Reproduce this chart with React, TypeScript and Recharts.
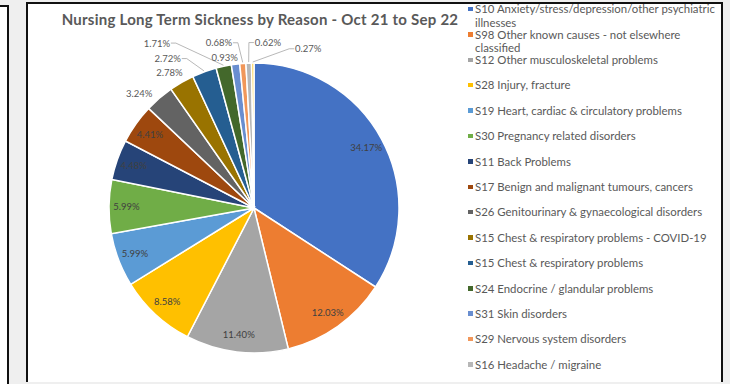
import { PieChart, Pie, Cell, Legend } from 'recharts';

// reasons, in the order Excel draws them (clockwise from 12 o'clock)
const reasons = [
  'S10 Anxiety/stress/depression/other psychiatric illnesses',
  'S98 Other known causes - not elsewhere classified',
  'S12 Other musculoskeletal problems',
  'S28 Injury, fracture',
  'S19 Heart, cardiac & circulatory problems',
  'S30 Pregnancy related disorders',
  'S11 Back Problems',
  'S17 Benign and malignant tumours, cancers',
  'S26 Genitourinary & gynaecological disorders',
  'S15 Chest & respiratory problems - COVID-19',
  'S15 Chest & respiratory problems',
  'S24 Endocrine / glandular problems',
  'S31 Skin disorders',
  'S29 Nervous system disorders',
  'S16 Headache / migraine',
  '', // 16th entry is cut off from the legend in the original
];

// share of long term sickness, %
const shares = [34.17, 12.03, 11.4, 8.58, 5.99, 5.99, 4.48, 4.41, 3.24, 2.78, 2.72, 1.71, 0.93, 0.68, 0.62, 0.27];

const colors = [
  '#4472C4', '#ED7D31', '#A5A5A5', '#FFC000', '#5B9BD5', '#70AD47',
  '#264478', '#9E480E', '#636363', '#997300', '#255E91', '#43682B',
  '#698ED0', '#F1975A', '#B7B7B7', '#FFCD33',
];

const data = reasons.map((name, i) => ({ name, value: shares[i], fill: colors[i] }));

const RAD = Math.PI / 180;

// Excel "best fit" pushed the thin slices' labels outside; angle (clockwise from top) and radius factor
const outsideSpots: Record<number, [number, number]> = {
  8: [315, 1.12],
  9: [328, 1.1],
  10: [330, 1.19],
  11: [329.5, 1.32],
  12: [349, 1.06],
  13: [348, 1.165],
  14: [4.8, 1.145],
  15: [18.8, 1.16],
};

const renderLabel = (props: any) => {
  const { cx, cy, midAngle, outerRadius, index, value } = props;
  const text = `${Number(value).toFixed(2)}%`;
  const spot = outsideSpots[index];
  if (!spot) {
    const r = outerRadius * 0.88;
    const x = cx + r * Math.cos(-midAngle * RAD);
    const y = cy + r * Math.sin(-midAngle * RAD);
    return (
      <text x={x} y={y} textAnchor="middle" dominantBaseline="central" fontSize={9.5} fill="#404040">
        {text}
      </text>
    );
  }
  const [a, f] = spot;
  const lx = cx + outerRadius * f * Math.sin(a * RAD);
  const ly = cy - outerRadius * f * Math.cos(a * RAD);
  const ex = cx + (outerRadius + 1) * Math.cos(-midAngle * RAD);
  const ey = cy + (outerRadius + 1) * Math.sin(-midAngle * RAD);
  const far = Math.hypot(lx - ex, ly - ey) > 25;
  const hw = text.length * 2.6;
  const sx = lx < ex ? lx + hw + 1 : lx - hw - 1;
  const kx = lx < ex ? sx + 5 : sx - 5;
  return (
    <g>
      {far && (
        <polyline points={`${sx},${ly} ${kx},${ly} ${ex},${ey}`} fill="none" stroke="#A6A6A6" strokeWidth={0.8} />
      )}
      <text x={lx} y={ly} textAnchor="middle" dominantBaseline="central" fontSize={9.5} fill="#595959">
        {text}
      </text>
    </g>
  );
};

// legend keeps the data order (Recharts would sort it by name)
const LegendList = () => (
  <ul style={{ listStyle: 'none', margin: 0, padding: 0 }}>
    {reasons
      .filter((name) => name)
      .map((name, i) => (
        <li
          key={i}
          style={{
            position: 'relative',
            height: 25.4,
            paddingLeft: 8,
            lineHeight: '13.4px',
            fontSize: 11.4,
            color: '#595959',
          }}
        >
          <span
            style={{ position: 'absolute', left: 1, top: 4.5, width: 4.5, height: 4.5, background: colors[i] }}
          />
          {name}
        </li>
      ))}
  </ul>
);

export default function App() {
  return (
    <div
      style={{
        position: 'fixed',
        left: 0,
        top: 0,
        width: 730,
        height: 384,
        background: '#EFEFEF',
        overflow: 'hidden',
        fontFamily: 'Lato, sans-serif',
      }}
    >
      <div
        style={{
          position: 'absolute',
          left: 0,
          top: 5,
          width: 9,
          height: 390,
          boxSizing: 'border-box',
          background: '#fff',
          borderTop: '2px solid #111',
          borderRight: '2px solid #111',
        }}
      />
      <div
        style={{
          position: 'absolute',
          left: 26,
          top: 2,
          width: 697,
          height: 380,
          boxSizing: 'border-box',
          background: '#fff',
          borderTop: '2px solid #111',
          borderLeft: '2px solid #111',
          borderRight: '2px solid #111',
        }}
      />
      <div
        style={{
          position: 'absolute',
          left: 40,
          top: 10,
          width: 440,
          textAlign: 'center',
          fontSize: 15,
          letterSpacing: 0.25,
          fontWeight: 700,
          color: '#595959',
          whiteSpace: 'nowrap',
        }}
      >
        Nursing Long Term Sickness by Reason - Oct 21 to Sep 22
      </div>
      <div style={{ position: 'absolute', left: 0, top: 0 }}>
        <PieChart width={730} height={384} margin={{ top: 0, right: 0, bottom: 0, left: 0 }}>
          <Pie
            data={data}
            dataKey="value"
            nameKey="name"
            cx={254}
            cy={208}
            outerRadius={145}
            startAngle={90}
            endAngle={-270}
            stroke="#fff"
            strokeWidth={1.5}
            label={renderLabel}
            labelLine={false}
            isAnimationActive={false}
          >
            {data.map((d, i) => (
              <Cell key={i} fill={d.fill} />
            ))}
          </Pie>
          <Legend
            layout="vertical"
            align="right"
            verticalAlign="top"
            content={LegendList}
            wrapperStyle={{ left: 467, top: 2.3, width: 255, right: 'auto' }}
          />
        </PieChart>
      </div>
    </div>
  );
}
